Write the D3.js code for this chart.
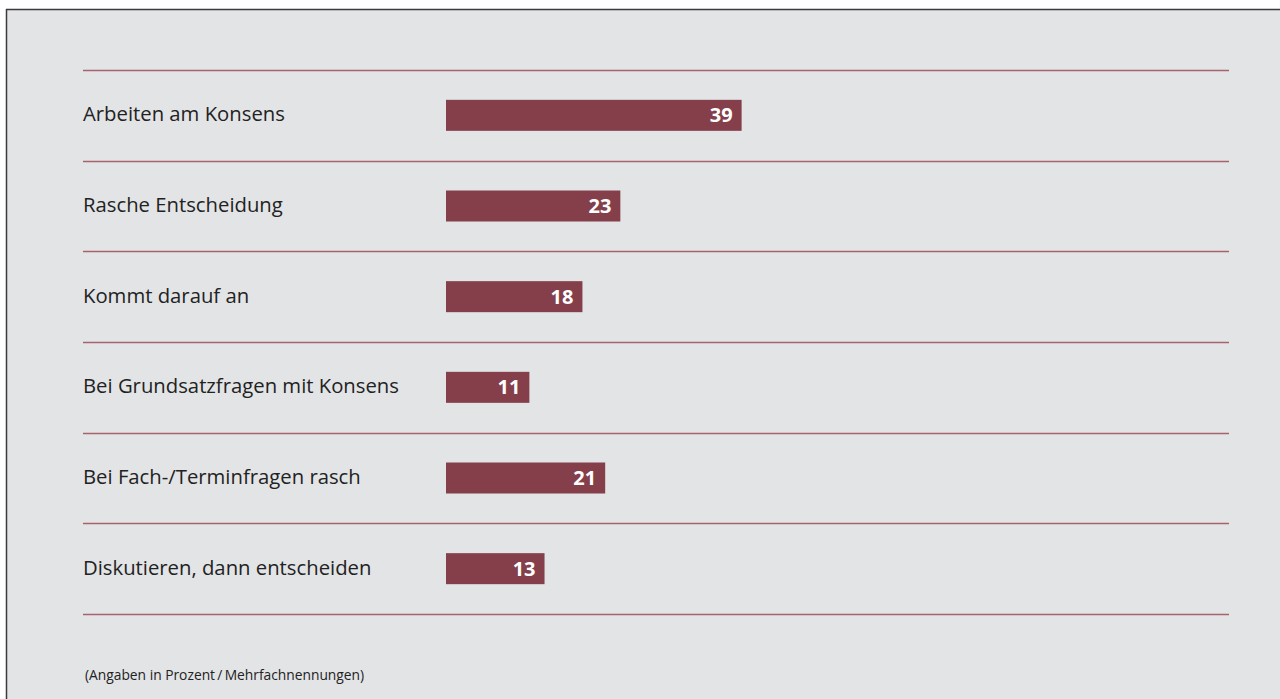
<!DOCTYPE html>
<html>
<head>
<meta charset="utf-8" />
<title>Konsens oder rasche Entscheidung</title>
<script src="https://cdn.jsdelivr.net/npm/d3@7"></script>
<style>
  html, body { margin: 0; padding: 0; background: #fff; }
  svg { display: block; }
</style>
</head>
<body>
<script>
var width = 1280, height = 699;

// Daten
var categories = ["Arbeiten am Konsens", "Rasche Entscheidung", "Kommt darauf an",
                  "Bei Grundsatzfragen mit Konsens", "Bei Fach-/Terminfragen rasch",
                  "Diskutieren, dann entscheiden"];
var values = [39, 23, 18, 11, 21, 13];
var note = "(Angaben in Prozent\u2009/\u2009Mehrfachnennungen)";

var svg = d3.select("body").append("svg").attr("width", width).attr("height", height);

// Hintergrund mit Rahmen oben und links
svg.append("rect").attr("x", 0).attr("y", 0).attr("width", width).attr("height", height).attr("fill", "#fff");
svg.append("rect").attr("x", 7).attr("y", 10).attr("width", width - 7).attr("height", height - 10).attr("fill", "#e3e4e6");
svg.append("line").attr("x1", 6).attr("x2", width).attr("y1", 9.5).attr("y2", 9.5).attr("stroke", "#3a3a3a").attr("stroke-width", 1.5);
svg.append("line").attr("x1", 6.5).attr("x2", 6.5).attr("y1", 9).attr("y2", height).attr("stroke", "#3a3a3a").attr("stroke-width", 1.5);

var yBand = d3.scaleBand().domain(categories).range([70, 614]);
var xScale = d3.scaleLinear().domain([0, 100]).range([446, 1204]);
var barH = 31;

// Trennlinien
var sep = d3.range(categories.length + 1);
svg.selectAll("line.sep").data(sep).enter().append("line")
  .attr("class", "sep")
  .attr("x1", 83).attr("x2", 1229)
  .attr("y1", function(d) { return Math.round(70 + d * yBand.step()) + 0.5; })
  .attr("y2", function(d) { return Math.round(70 + d * yBand.step()) + 0.5; })
  .attr("stroke", "#a6636b").attr("stroke-width", 1.3);

var rows = svg.selectAll("g.row").data(categories).enter().append("g").attr("class", "row")
  .attr("transform", function(d) { return "translate(0," + (yBand(d) + yBand.bandwidth() / 2) + ")"; });

rows.append("text")
  .attr("x", 83).attr("y", 6)
  .attr("font-family", "'Open Sans', 'DejaVu Sans', sans-serif")
  .attr("font-size", 20.3)
  .attr("fill", "#222")
  .text(function(d) { return d; });

rows.append("rect")
  .attr("x", xScale(0))
  .attr("y", -barH / 2)
  .attr("width", function(d, i) { return xScale(values[i]) - xScale(0); })
  .attr("height", barH)
  .attr("fill", "#843f4a");

rows.append("text")
  .attr("x", function(d, i) { return xScale(values[i]) - 9; })
  .attr("y", 7)
  .attr("text-anchor", "end")
  .attr("font-family", "'Open Sans', 'DejaVu Sans', sans-serif")
  .attr("font-weight", "bold")
  .attr("font-size", 20)
  .attr("fill", "#fff")
  .text(function(d, i) { return values[i]; });

svg.append("text")
  .attr("x", 85).attr("y", 680)
  .attr("font-family", "'Open Sans', 'DejaVu Sans', sans-serif")
  .attr("font-size", 13.8)
  .attr("fill", "#222")
  .text(note);
</script>
</body>
</html>
